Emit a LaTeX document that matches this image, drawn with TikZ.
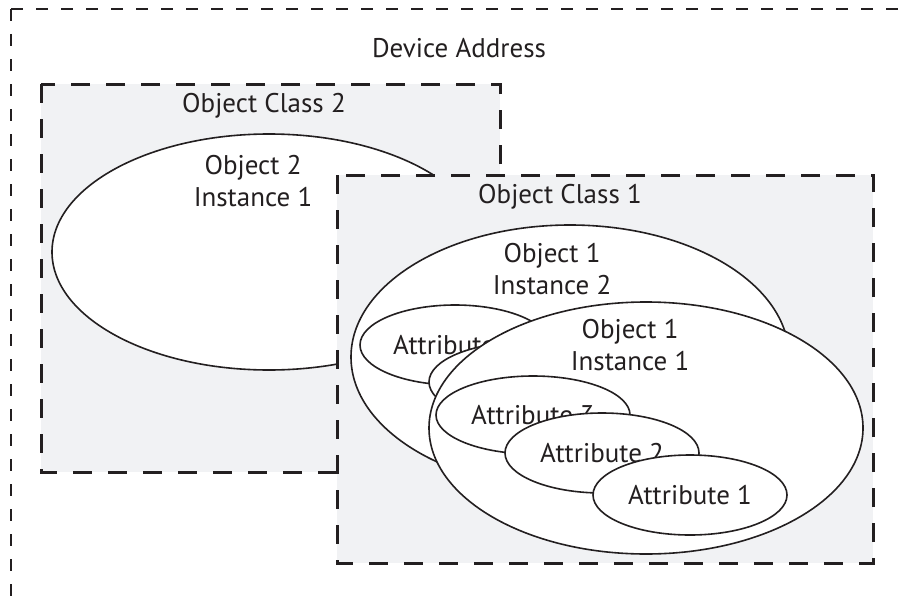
\documentclass[tikz,border=0pt]{standalone}
\usepackage{fontspec}
\setmainfont{PT Sans}
\usepackage{tikz}
\usetikzlibrary{shapes.geometric}

\definecolor{ink}{HTML}{231F20}
\definecolor{classgray}{HTML}{F1F2F4}

\tikzset{
    lbl/.style={text=ink, font=\fontsize{27}{32}\selectfont, align=center, inner sep=0pt},
    classbox/.style={draw=ink, fill=classgray, line width=3pt, dash pattern=on 19pt off 16pt},
    devline/.style={draw=ink, line width=1.5pt, dash pattern=on 12pt off 13pt},
    obj/.style={ellipse, draw=ink, fill=white, line width=1.6pt, inner sep=0pt},
}

\begin{document}
\begin{tikzpicture}[x=1pt,y=-1pt]
            \useasboundingbox (0,0) rectangle (901,602);
            % device address frame, runs off the page
            \coordinate (D) at (11,9);
            \draw[devline] (D) -- (11,640);
            \draw[devline] (D) -- (960,9);
            \node[lbl] (devaddr) at (459,48) {Device Address};

            % object class 2
            \coordinate (C2a) at (41,84);
            \coordinate (C2b) at (500,472);
            \draw[classbox] (C2a) rectangle (C2b);
            \node[lbl] (class2) at (264,106) {Object Class 2};
            \node[obj, minimum width=434pt, minimum height=236pt] (obj2inst1) at (269,252) {};
            \node[lbl] (obj2lbl) at (253,181) {Object 2\\Instance 1};

            % object class 1
            \coordinate (C1a) at (337,175);
            \coordinate (C1b) at (873,563);
            \draw[classbox] (C1a) rectangle (C1b);
            \node[lbl] (class1) at (560,197) {Object Class 1};

            % instance 2 with its attributes
            \node[obj, minimum width=438pt, minimum height=264pt] (inst2) at (570,357) {};
            \node[lbl] (inst2lbl) at (552,269) {Object 1\\Instance 2};
            \node[obj, minimum width=190pt, minimum height=80pt] (i2attr3) at (455,345) {};
            \node[lbl] (i2attr3lbl) at (i2attr3) {Attribute 3};
            \node[obj, minimum width=194pt, minimum height=80pt] (i2attr2) at (526,382) {};
            % \node[obj, minimum width=194pt, minimum height=80pt] (i2attr1) at (614,424) {};

            % instance 1 with its attributes
            \node[obj, minimum width=434pt, minimum height=252pt] (inst1) at (646,428) {};
            \node[lbl] (inst1lbl) at (630,345) {Object 1\\Instance 1};
            \node[obj, minimum width=194pt, minimum height=78pt] (attr3) at (533,415) {};
            \node[lbl] (attr3lbl) at (attr3) {Attribute 3};
            \node[obj, minimum width=194pt, minimum height=80pt] (attr2) at (602,453) {};
            \node[lbl] (attr2lbl) at (attr2) {Attribute 2};
            \node[obj, minimum width=194pt, minimum height=80pt] (attr1) at (690,495) {};
            \node[lbl] (attr1lbl) at (attr1) {Attribute 1};
        \end{tikzpicture}
\end{document}
